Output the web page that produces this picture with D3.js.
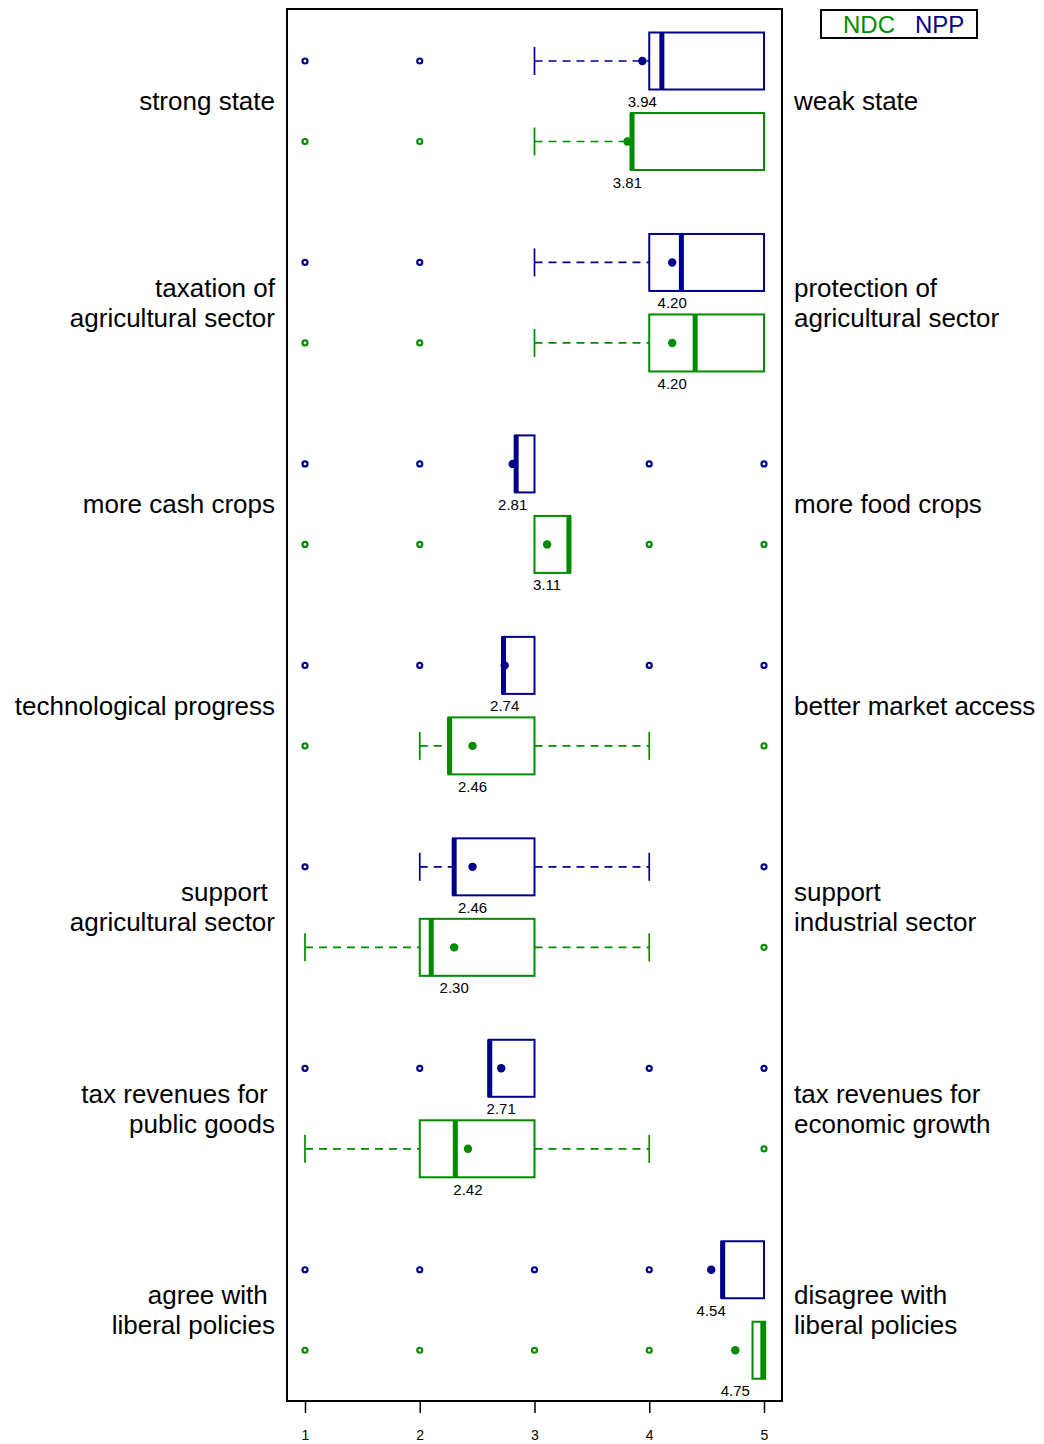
<!DOCTYPE html>
<html><head><meta charset="utf-8">
<script src="https://cdn.jsdelivr.net/npm/d3@7"></script>
<style>
body{margin:0;background:#fff;}
svg{display:block;font-family:"Liberation Sans",Arial,sans-serif;}
text{white-space:pre;}
</style></head>
<body>
<script>
const leftLabels = [["strong state"],["taxation of","agricultural sector"],["more cash crops"],["technological progress"],["support ","agricultural sector"],["tax revenues for ","public goods"],["agree with ","liberal policies"]];
const rightLabels = [["weak state"],["protection of","agricultural sector"],["more food crops"],["better market access"],["support","industrial sector"],["tax revenues for","economic growth"],["disagree with","liberal policies"]];
const series = ["NPP","NDC"];
const colors = ["#00008B","#008B00"];
// each: [whiskerLow, q1, median, q3, whiskerHigh]
const nppStats = [[3,4,4.11,5,5],[3,4,4.28,5,5],[2.83,2.83,2.84,3,3],[2.72,2.72,2.73,3,3],[2,2.29,2.3,3,4],[2.6,2.6,2.61,3,3],[4.63,4.63,4.64,5,5]];
const ndcStats = [[3,3.84,3.85,5,5],[3,4,4.4,5,5],[3,3,3.3,3.31,3.31],[2,2.25,2.26,3,4],[1,2,2.1,3,4],[1,2,2.31,3,4],[4.9,4.9,4.99,5.01,5.01]];
const nppMeans = [3.94,4.20,2.81,2.74,2.46,2.71,4.54];
const ndcMeans = [3.81,4.20,3.11,2.46,2.30,2.42,4.75];
const nppOutliers = [[1,2],[1,2],[1,2,4,5],[1,2,4,5],[1,5],[1,2,4,5],[1,2,3,4]];
const ndcOutliers = [[1,2],[1,2],[1,2,4,5],[1,5],[5],[5],[1,2,3,4]];
const xTicks = [1,2,3,4,5];
const legendItems = ["NDC","NPP"];

const W=1044,H=1444;
const svg=d3.select("body").append("svg").attr("width",W).attr("height",H);
const pl=287,pr=782,pt=9,pb=1401;
const x=d3.scaleLinear().domain([1,5]).range([305,764]);
const groups=d3.range(leftLabels.length);
const yG=d3.scalePoint().domain(groups).range([101.25,1310]);
const yS=d3.scalePoint().domain(series).range([-40.25,40.25]);
const boxH=57;

const stats={NPP:nppStats,NDC:ndcStats}, means={NPP:nppMeans,NDC:ndcMeans}, outs={NPP:nppOutliers,NDC:ndcOutliers};
const col=s=>colors[series.indexOf(s)];

groups.forEach(g=>{
  series.forEach(s=>{
    const cy=yG(g)+yS(s), c=col(s);
    const [wl,q1,med,q3,wh]=stats[s][g];
    const gg=svg.append("g");
    if(wl<q1){
      gg.append("line").attr("x1",x(wl)).attr("x2",x(q1)).attr("y1",cy).attr("y2",cy).attr("stroke",c).attr("stroke-width",1.7).attr("stroke-dasharray","8,6");
      gg.append("line").attr("x1",x(wl)).attr("x2",x(wl)).attr("y1",cy-14).attr("y2",cy+14).attr("stroke",c).attr("stroke-width",1.7);
    }
    if(wh>q3){
      gg.append("line").attr("x1",x(q3)).attr("x2",x(wh)).attr("y1",cy).attr("y2",cy).attr("stroke",c).attr("stroke-width",1.7).attr("stroke-dasharray","8,6");
      gg.append("line").attr("x1",x(wh)).attr("x2",x(wh)).attr("y1",cy-14).attr("y2",cy+14).attr("stroke",c).attr("stroke-width",1.7);
    }
    gg.append("rect").attr("x",x(q1)).attr("y",cy-boxH/2).attr("width",x(q3)-x(q1)).attr("height",boxH).attr("fill","#fff").attr("stroke",c).attr("stroke-width",2);
    gg.append("line").attr("x1",x(med)).attr("x2",x(med)).attr("y1",cy-boxH/2).attr("y2",cy+boxH/2).attr("stroke",c).attr("stroke-width",5);
    outs[s][g].forEach(o=>{
      gg.append("circle").attr("cx",x(o)).attr("cy",cy).attr("r",2.5).attr("fill","none").attr("stroke",c).attr("stroke-width",2.2);
    });
    const m=means[s][g];
    gg.append("circle").attr("cx",x(m)).attr("cy",cy).attr("r",4.2).attr("fill",c);
    gg.append("text").attr("x",x(m)).attr("y",cy+boxH/2+17.5).attr("text-anchor","middle").attr("font-size",15).attr("fill","#000").text(m.toFixed(2));
  });
  const lc=yG(g);
  const ll=leftLabels[g], rl=rightLabels[g];
  ll.forEach((t,i)=>{
    svg.append("text").attr("x",275).attr("y",lc+9+(i-(ll.length-1)/2)*30).attr("text-anchor","end").attr("font-size",26).text(t);
  });
  rl.forEach((t,i)=>{
    svg.append("text").attr("x",794).attr("y",lc+9+(i-(rl.length-1)/2)*30).attr("text-anchor","start").attr("font-size",26).text(t);
  });
});

svg.append("rect").attr("x",pl).attr("y",pt).attr("width",pr-pl).attr("height",pb-pt).attr("fill","none").attr("stroke","#000").attr("stroke-width",2);

const ax=svg.append("g").attr("transform",`translate(0,${pb})`).call(d3.axisBottom(x).tickValues(xTicks).tickFormat(d3.format("d")).tickSize(12).tickPadding(17));
ax.select(".domain").remove();
ax.selectAll(".tick line").attr("stroke","#000").attr("stroke-width",1.5);
ax.selectAll(".tick text").attr("font-size",14).attr("font-family","Liberation Sans, Arial, sans-serif").attr("fill","#000");

svg.append("rect").attr("x",821).attr("y",10).attr("width",156).attr("height",28).attr("fill","#fff").attr("stroke","#000").attr("stroke-width",2);
const legColors={NDC:colors[1],NPP:colors[0]};
const legX=[843,915];
legendItems.forEach((t,i)=>{
  svg.append("text").attr("x",legX[i]).attr("y",33).attr("font-size",24).attr("fill",legColors[t]).text(t);
});
</script>
</body></html>
